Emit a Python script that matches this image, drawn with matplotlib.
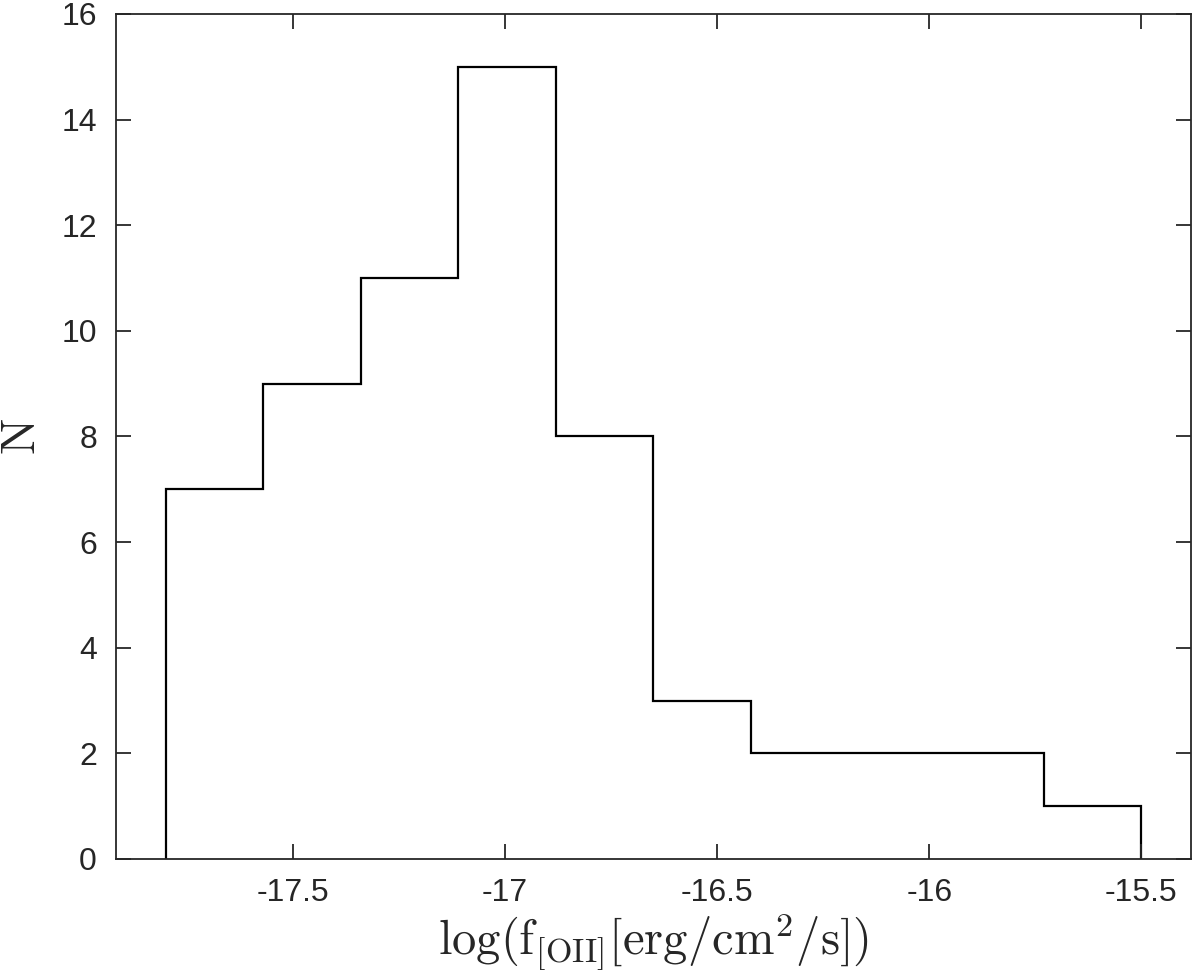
import numpy as np
import matplotlib
matplotlib.use('Agg')
import matplotlib.pyplot as plt

# histogram of [OII] fluxes, 10 bins
bin_edges = [-17.80, -17.57, -17.34, -17.11, -16.88, -16.65,
             -16.42, -16.19, -15.96, -15.73, -15.50]
counts = [7, 9, 11, 15, 8, 3, 2, 2, 2, 1]
xticks = [-17.5, -17, -16.5, -16, -15.5]
xtick_labels = ['-17.5', '-17', '-16.5', '-16', '-15.5']
yticks = [0, 2, 4, 6, 8, 10, 12, 14, 16]

plt.rcParams['font.family'] = ['Liberation Sans', 'DejaVu Sans']
plt.rcParams['mathtext.fontset'] = 'cm'
plt.rcParams['axes.unicode_minus'] = False

axcol = '#262626'
fig = plt.figure(figsize=(12, 9.76), dpi=100)
ax = fig.add_axes([0.097, 0.1199, 0.8955, 0.8658])

ax.stairs(counts, bin_edges, baseline=0, color='k', lw=1.6)

ax.set_xlim(-17.916, -15.383)
ax.set_ylim(0, 16)
ax.set_xticks(xticks)
ax.set_xticklabels(xtick_labels)
ax.set_yticks(yticks)
ax.tick_params(direction='in', length=11, width=1.3, colors=axcol,
               labelsize=23, top=True, right=True)
ax.tick_params(axis='x', pad=14)
ax.tick_params(axis='y', pad=14)
for s in ax.spines.values():
    s.set_color(axcol)
    s.set_linewidth(1.3)

ax.set_xlabel(r'$\mathrm{log}(\mathrm{f}_{[\mathrm{OII}]}[\mathrm{erg/cm}^2\mathrm{/s}])$',
              fontsize=35, color=axcol, labelpad=2)
ax.set_ylabel(r'$\mathrm{N}$', fontsize=35, color=axcol, labelpad=12)

fig.savefig('out.png', dpi=100, facecolor='white')
